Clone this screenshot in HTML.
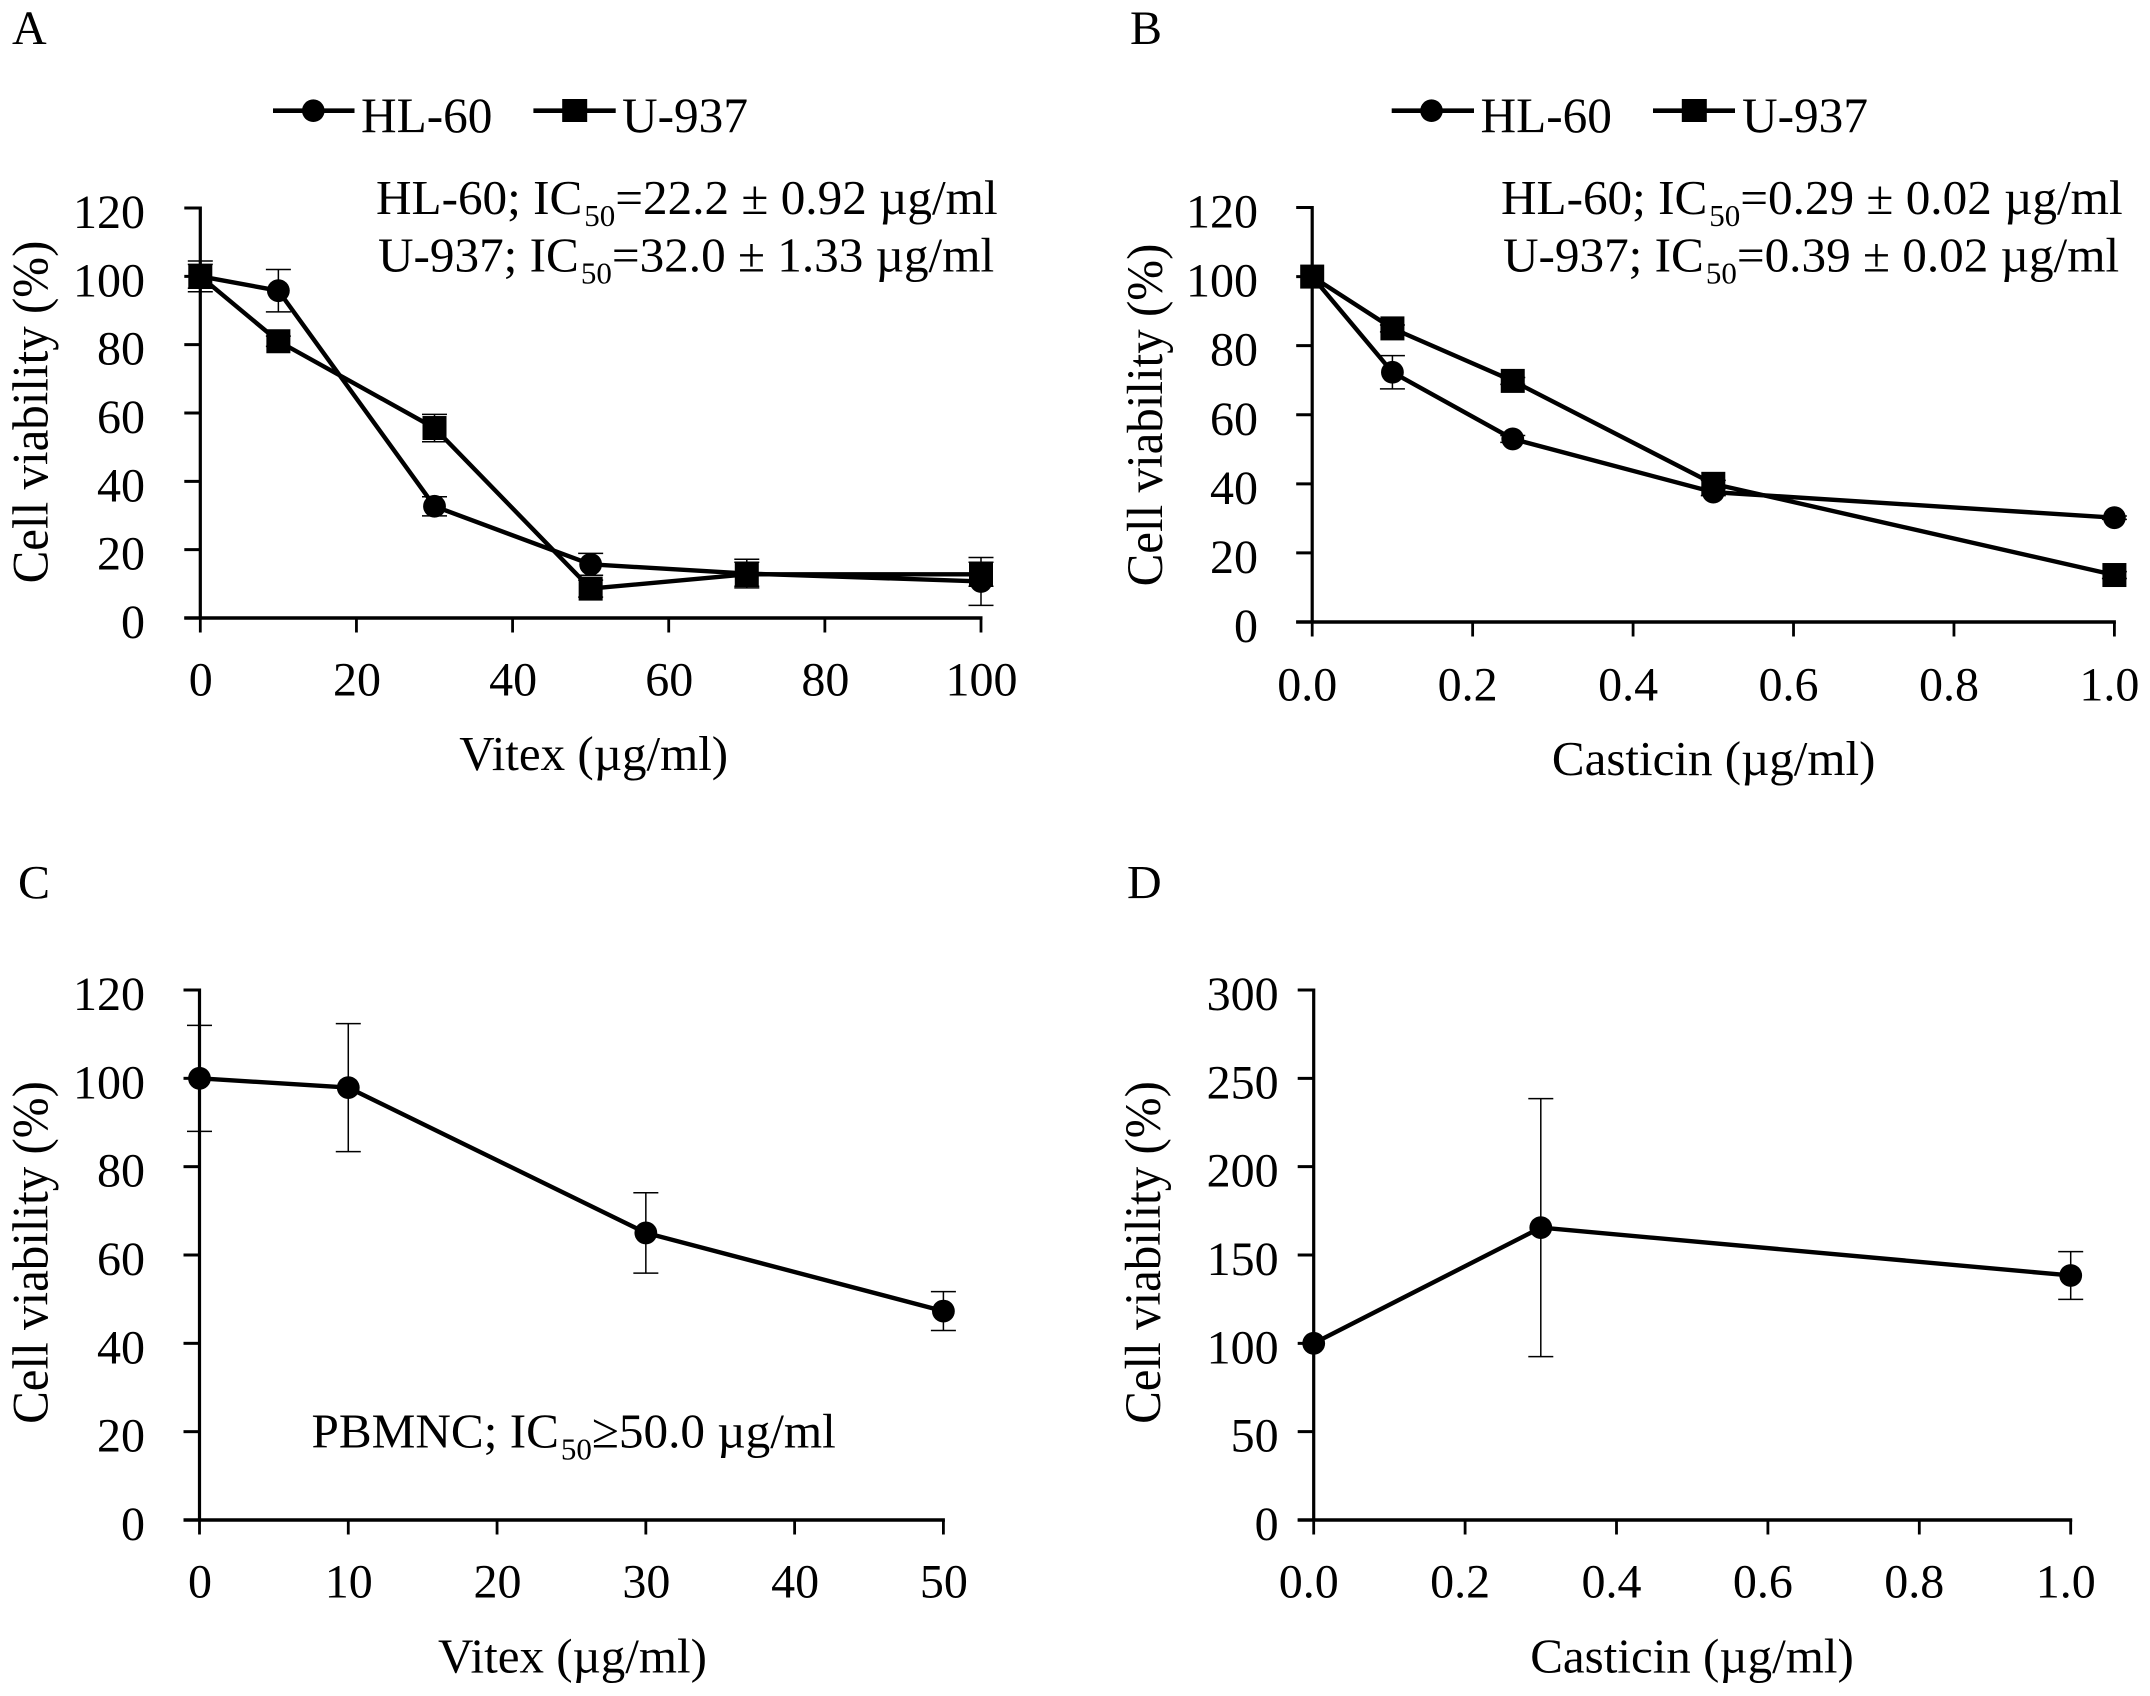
<!DOCTYPE html>
<html>
<head>
<meta charset="utf-8">
<title>Cell viability panels</title>
<style>
html,body{margin:0;padding:0;background:#fff;}
svg{display:block;}
text{font-family:"Liberation Serif",serif;fill:#000;font-size:48px;}
.ann{font-size:49.2px;}
.leg{font-size:49.3px;}
.sub{font-size:31px;}
.ttl{font-size:49px;}
</style>
</head>
<body>
<svg id="fig" xmlns="http://www.w3.org/2000/svg" width="2150" height="1696" viewBox="0 0 2150 1696">
  <rect width="2150" height="1696" fill="#fff"/>
  <text x="12" y="44">A</text>
  <text x="1130" y="44">B</text>
  <text x="18" y="898.5">C</text>
  <text x="1127" y="898.5">D</text>

  <g>
    <line x1="273" x2="354.5" y1="110.7" y2="110.7" stroke="#000" stroke-width="4.6"/>
    <circle cx="313.3" cy="110.7" r="11.3"/>
    <text class="leg" x="361" y="132">HL-60</text>
    <line x1="533.4" x2="615.7" y1="110.7" y2="110.7" stroke="#000" stroke-width="4.6"/>
    <rect x="562.2" y="99" width="25" height="23"/>
    <text class="leg" x="622" y="132">U-937</text>
  </g>
  <g>
    <line x1="1391.7" x2="1474" y1="110.7" y2="110.7" stroke="#000" stroke-width="4.6"/>
    <circle cx="1431.5" cy="110.7" r="11.3"/>
    <text class="leg" x="1480.5" y="132">HL-60</text>
    <line x1="1653" x2="1735" y1="110.7" y2="110.7" stroke="#000" stroke-width="4.6"/>
    <rect x="1681.8" y="99" width="25" height="23"/>
    <text class="leg" x="1742" y="132">U-937</text>
  </g>

  <text class="ann" x="376" y="214">HL-60; IC<tspan class="sub" dx="2" dy="12">50</tspan><tspan dy="-12">=22.2 ± 0.92 µg/ml</tspan></text>
  <text class="ann" x="378" y="271.7">U-937; IC<tspan class="sub" dx="2" dy="12">50</tspan><tspan dy="-12">=32.0 ± 1.33 µg/ml</tspan></text>
  <text class="ann" x="1501" y="214">HL-60; IC<tspan class="sub" dx="2" dy="12">50</tspan><tspan dy="-12">=0.29 ± 0.02 µg/ml</tspan></text>
  <text class="ann" x="1503" y="271.7">U-937; IC<tspan class="sub" dx="2" dy="12">50</tspan><tspan dy="-12">=0.39 ± 0.02 µg/ml</tspan></text>
  <text class="ann" x="311.5" y="1447.6">PBMNC; IC<tspan class="sub" dx="2" dy="12">50</tspan><tspan dy="-12">≥50.0 µg/ml</tspan></text>

  <text class="ttl" text-anchor="middle" x="593.7" y="770">Vitex (µg/ml)</text>
  <text class="ttl" text-anchor="middle" x="1713.7" y="775">Casticin (µg/ml)</text>
  <text class="ttl" text-anchor="middle" x="572.5" y="1672.5">Vitex (µg/ml)</text>
  <text class="ttl" text-anchor="middle" x="1692" y="1672.5">Casticin (µg/ml)</text>

  <text class="ttl" text-anchor="middle" transform="translate(47.5 412) rotate(-90) scale(1 1.04)">Cell viability (%)</text>
  <text class="ttl" text-anchor="middle" transform="translate(1162 415) rotate(-90) scale(1 1.04)">Cell viability (%)</text>
  <text class="ttl" text-anchor="middle" transform="translate(47.5 1252.5) rotate(-90) scale(1 1.04)">Cell viability (%)</text>
  <text class="ttl" text-anchor="middle" transform="translate(1160 1252.5) rotate(-90) scale(1 1.04)">Cell viability (%)</text>
</svg>
<script>
// Panel A
const aXLabels = ["0","20","40","60","80","100"];
const aYLabels = ["0","20","40","60","80","100","120"];
const aDoses = [0,10,30,50,70,100];
const aHl60 = [100,95.8,32.7,15.7,13,10.7];
const aHl60Err = [4.5,6.2,2.8,3.2,4.2,7];
const aU937 = [100,81,55.6,8.6,12.8,12.8];
const aU937Err = [3.5,1.5,4,2.5,3.5,3.5];
// Panel B
const bXLabels = ["0.0","0.2","0.4","0.6","0.8","1.0"];
const bYLabels = ["0","20","40","60","80","100","120"];
const bDoses = [0,0.1,0.25,0.5,1];
const bHl60 = [100,72.3,53,37.6,30.2];
const bHl60Err = [0,4.8,1,1,0.5];
const bU937 = [100,85,69.8,40,13.6];
const bU937Err = [0,1,1,1,1];
// Panel C
const cXLabels = ["0","10","20","30","40","50"];
const cYLabels = ["0","20","40","60","80","100","120"];
const cDoses = [0,10,30,50];
const cPbmnc = [100,97.9,65,47.3];
const cPbmncErr = [12,14.5,9.1,4.4];
// Panel D
const dXLabels = ["0.0","0.2","0.4","0.6","0.8","1.0"];
const dYLabels = ["0","50","100","150","200","250","300"];
const dDoses = [0,0.3,1];
const dPbmnc = [100,165.5,138.4];
const dPbmncErr = [0,73,13.5];

const svg = document.getElementById('fig');
const NS = 'http://www.w3.org/2000/svg';

function shape(tag, parent, attrs) {
  const node = document.createElementNS(NS, tag);
  for (const k in attrs) node.setAttribute(k, attrs[k]);
  parent.appendChild(node);
  return node;
}

function makeScale(dMin, dMax, rMin, rMax) {
  return v => rMin + (v - dMin) / (dMax - dMin) * (rMax - rMin);
}

function drawAxes(panel, xLabels, yLabels, x, y, box) {
  const axes = shape('g', panel, {});
  
  
  const yAxis = shape('line', axes, {x1: box.x0, x2: box.x0, y1: box.yTop - 1.5, y2: box.y0, stroke: '#000', 'stroke-width': 3.2});
  
  
  const xAxis = shape('line', axes, {x1: box.x0 - 16, x2: box.x1 + 1.5, y1: box.y0, y2: box.y0, stroke: '#000', 'stroke-width': 3.5});
  
  
  xLabels.forEach(label => {
    const px = x(Number(label));
    const tick = shape('line', axes, {x1: px, x2: px, y1: box.y0, y2: box.y0 + 14.5, stroke: '#000', 'stroke-width': 2.8});
    
    
    const txt = shape('text', axes, {x: px + box.labelDx, y: box.xLabelY, 'text-anchor': 'middle'});
    
    
    txt.textContent = label;
  });
  yLabels.forEach(label => {
    const py = y(Number(label));
    const tick = shape('line', axes, {x1: box.x0 - 16, x2: box.x0, y1: py, y2: py, stroke: '#000', 'stroke-width': 3});
    
    
    const txt = shape('text', axes, {x: box.yLabelX, y: py + 20, 'text-anchor': 'end'});
    
    
    txt.textContent = label;
  });
}

function drawErrors(panel, doses, values, errs, x, y) {
  doses.forEach((d, i) => {
    if (!errs[i]) return;
    const px = x(d), top = y(values[i] + errs[i]), bot = y(values[i] - errs[i]);
    const bar = shape('path', panel, {d: `M${px - 12.5} ${top}H${px + 12.5}M${px} ${top}V${bot}M${px - 12.5} ${bot}H${px + 12.5}`, fill: 'none', stroke: '#000', 'stroke-width': 1.5});
    
    
  });
}

function drawLine(panel, doses, values, x, y) {
  const pts = doses.map((d, i) => x(d) + ',' + y(values[i])).join(' ');
  const line = shape('polyline', panel, {points: pts, fill: 'none', stroke: '#000', 'stroke-width': 4.4, 'stroke-linejoin': 'round'});
  
  
}

function drawCircles(panel, doses, values, x, y) {
  doses.forEach((d, i) => {
    const c = shape('circle', panel, {cx: x(d), cy: y(values[i]), r: 11.4});
    
    
  });
}

function drawSquares(panel, doses, values, x, y) {
  doses.forEach((d, i) => {
    const s = shape('rect', panel, {x: x(d) - 12, y: y(values[i]) - 12, width: 24, height: 24});
    
    
  });
}

function newPanel(box, xLabels, yLabels) {
  const panel = shape('g', svg, {});
  const x = makeScale(Number(xLabels[0]), Number(xLabels[xLabels.length - 1]), box.x0, box.x1);
  const y = makeScale(Number(yLabels[0]), Number(yLabels[yLabels.length - 1]), box.y0, box.yTop);
  drawAxes(panel, xLabels, yLabels, x, y, box);
  return {panel, x, y};
}

const pa = newPanel({x0: 200.3, x1: 981, y0: 618, yTop: 208, xLabelY: 695.5, yLabelX: 145, labelDx: 0.5}, aXLabels, aYLabels);


drawErrors(pa.panel, aDoses, aHl60, aHl60Err, pa.x, pa.y);
drawErrors(pa.panel, aDoses, aU937, aU937Err, pa.x, pa.y);
drawLine(pa.panel, aDoses, aHl60, pa.x, pa.y);
drawLine(pa.panel, aDoses, aU937, pa.x, pa.y);
drawCircles(pa.panel, aDoses, aHl60, pa.x, pa.y);
drawSquares(pa.panel, aDoses, aU937, pa.x, pa.y);

const pb = newPanel({x0: 1312.2, x1: 2114.4, y0: 622, yTop: 207.5, xLabelY: 700.5, yLabelX: 1258, labelDx: -5}, bXLabels, bYLabels);


drawErrors(pb.panel, bDoses, bHl60, bHl60Err, pb.x, pb.y);
drawErrors(pb.panel, bDoses, bU937, bU937Err, pb.x, pb.y);
drawLine(pb.panel, bDoses, bHl60, pb.x, pb.y);
drawLine(pb.panel, bDoses, bU937, pb.x, pb.y);
drawCircles(pb.panel, bDoses, bHl60, pb.x, pb.y);
drawSquares(pb.panel, bDoses, bU937, pb.x, pb.y);

const pc = newPanel({x0: 199.5, x1: 943.4, y0: 1520, yTop: 990, xLabelY: 1597.7, yLabelX: 145, labelDx: 0.5}, cXLabels, cYLabels);


drawErrors(pc.panel, cDoses, cPbmnc, cPbmncErr, pc.x, pc.y);
drawLine(pc.panel, cDoses, cPbmnc, pc.x, pc.y);
drawCircles(pc.panel, cDoses, cPbmnc, pc.x, pc.y);

const pd = newPanel({x0: 1313.7, x1: 2070.7, y0: 1520, yTop: 990, xLabelY: 1597.7, yLabelX: 1278.6, labelDx: -5}, dXLabels, dYLabels);


drawErrors(pd.panel, dDoses, dPbmnc, dPbmncErr, pd.x, pd.y);
drawLine(pd.panel, dDoses, dPbmnc, pd.x, pd.y);
drawCircles(pd.panel, dDoses, dPbmnc, pd.x, pd.y);
</script>
</body>
</html>
